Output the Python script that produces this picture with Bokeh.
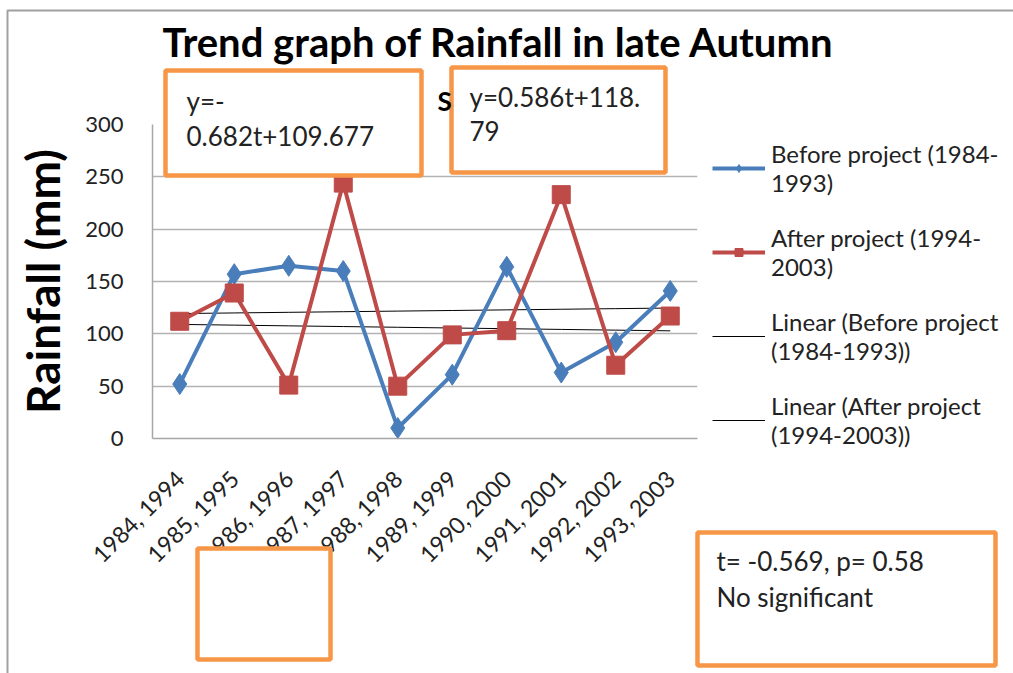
import numpy as np
from bokeh.plotting import figure
from bokeh.models import (FactorRange, Range1d, Legend, LegendItem, Label,
                          SingleIntervalTicker, GridBox, Column)
from bokeh.embed import file_html
from bokeh.resources import INLINE

# ---------------- data ----------------
categories = ["1984, 1994", "1985, 1995", "1986, 1996", "1987, 1997", "1988, 1998",
              "1989, 1999", "1990, 2000", "1991, 2001", "1992, 2002", "1993, 2003"]
before_project = [52, 157, 165, 160, 10, 61, 164, 63, 92, 141]
after_project = [112, 139, 51, 244, 50, 99, 103, 233, 70, 117]
before_trend_coef = [-0.682, 109.677]   # slope, intercept (t = 1..10)
after_trend_coef = [0.586, 118.79]
series_names = ["Before project (1984-\n1993)", "After project (1994-\n2003)",
                "Linear (Before project\n(1984-1993))", "Linear (After project\n(1994-2003))"]
title_text = "Trend graph of Rainfall in late Autumn"
eq_before = ["y=-", "0.682t+109.677"]
eq_after = ["y=0.586t+118.", "79"]
stats_text = ["t= -0.569, p= 0.58", "No significant"]

FONT = "Lato"
BLUE = "#4A7EBB"
RED = "#BE4B48"
ORANGE = "#F79646"
TXT = "#222222"

W, H = 1013, 673
# plot frame in canvas pixels
FL, FR, FT, FB = 152, 697, 124, 438

p = figure(frame_width=FR - FL, frame_height=FB - FT,
           x_range=FactorRange(factors=categories, range_padding=0),
           y_range=Range1d(0, 300), output_backend="svg", toolbar_location=None,
           min_border_left=FL, min_border_right=W - FR,
           min_border_top=FT, min_border_bottom=H - FB)
p.outline_line_color = None
p.xgrid.grid_line_color = None
p.ygrid.grid_line_color = "#b3b3b3"
p.ygrid.grid_line_width = 1.5

p.yaxis.ticker = SingleIntervalTicker(interval=50)
p.yaxis.axis_line_color = "#a6a6a6"
p.yaxis.axis_line_width = 1.5
p.yaxis.major_tick_line_color = None
p.yaxis.major_tick_out = 0
p.yaxis.minor_tick_line_color = None
p.yaxis.major_label_standoff = 25
p.yaxis.major_label_text_font = FONT
p.yaxis.major_label_text_font_size = "22px"
p.yaxis.major_label_text_color = TXT
p.yaxis.axis_label = "Rainfall (mm)"
p.yaxis.axis_label_text_font = FONT
p.yaxis.axis_label_text_font_style = "bold"
p.yaxis.axis_label_text_font_size = "46px"
p.yaxis.axis_label_text_color = "#000000"
p.yaxis.axis_label_standoff = 12

p.xaxis.axis_line_color = "#a6a6a6"
p.xaxis.axis_line_width = 1.5
p.xaxis.major_tick_line_color = None
p.xaxis.major_tick_out = 0
p.xaxis.minor_tick_line_color = None
p.xaxis.major_label_orientation = np.pi / 4
p.xaxis.major_label_standoff = 36
p.xaxis.major_label_text_font = FONT
p.xaxis.major_label_text_font_size = "23px"
p.xaxis.major_label_text_color = TXT

t = np.arange(1, len(categories) + 1)
before_trend = before_trend_coef[0] * t + before_trend_coef[1]
after_trend = after_trend_coef[0] * t + after_trend_coef[1]

r_tb = p.line(categories, before_trend, line_color="#000000", line_width=1)
r_ta = p.line(categories, after_trend, line_color="#000000", line_width=1)
r_bl = p.line(categories, before_project, line_color=BLUE, line_width=4)
r_bm = p.scatter(categories, before_project, marker="diamond", size=21,
                 fill_color=BLUE, line_color=BLUE)
r_al = p.line(categories, after_project, line_color=RED, line_width=4)
r_am = p.scatter(categories, after_project, marker="square", size=18,
                 fill_color=RED, line_color=RED)

legend = Legend(items=[
    LegendItem(label=series_names[0], renderers=[r_bl, r_bm]),
    LegendItem(label=series_names[1], renderers=[r_al, r_am]),
    LegendItem(label=series_names[2], renderers=[r_tb]),
    LegendItem(label=series_names[3], renderers=[r_ta]),
], location="top_left")
legend.border_line_color = None
legend.background_fill_alpha = 0
legend.margin = 15
legend.padding = 20
legend.spacing = 26
legend.glyph_width = 53
legend.label_standoff = 6
legend.label_text_font = FONT
legend.label_text_font_size = "24px"
legend.label_text_line_height = 2.3
legend.label_text_color = TXT
p.add_layout(legend, "right")

# ---------------- overlay with the chart's text boxes ----------------
o = figure(width=W, height=H, x_range=Range1d(0, W), y_range=Range1d(H, 0),
           x_axis_type=None, y_axis_type=None, output_backend="svg",
           toolbar_location=None, min_border=0)
o.background_fill_color = None
o.border_fill_color = None
o.outline_line_color = None

# chart-area border (left and top edges)
o.quad(left=[7], right=[W + 20], top=[10], bottom=[H + 20], fill_alpha=0,
       line_color="#a0a0a0", line_width=2)

o.add_layout(Label(x=498, y=41, text=title_text, text_font=FONT, text_font_style="bold",
                   text_font_size="40px", text_align="center", text_baseline="alphabetic",
                   text_color="#000000"))
o.add_layout(Label(x=437, y=100, text="S", text_font=FONT, text_font_style="bold",
                   text_font_size="26px", text_baseline="alphabetic", text_color="#000000"))

box_left = [165, 451, 197, 697]
box_right = [421, 665, 330, 995]
box_top = [70, 67, 548, 532]
box_bottom = [175, 172, 659, 665]
o.quad(left=box_left, right=box_right, top=box_top, bottom=box_bottom,
       fill_color="white", line_color=ORANGE, line_width=4.5)

texts = [(186, 100, eq_before[0]), (186, 135, eq_before[1]),
         (469, 96, eq_after[0]), (469, 130, eq_after[1]),
         (716, 560, stats_text[0]), (716, 596, stats_text[1])]
for (x, y, s) in texts:
    o.add_layout(Label(x=x, y=y, text=s, text_font=FONT, text_font_size="26px",
                       text_baseline="alphabetic", text_color=TXT))

layout = GridBox(children=[(p, 0, 0), (Column(children=[o]), 0, 0)])
open("out.html", "w").write(file_html(layout, INLINE))
